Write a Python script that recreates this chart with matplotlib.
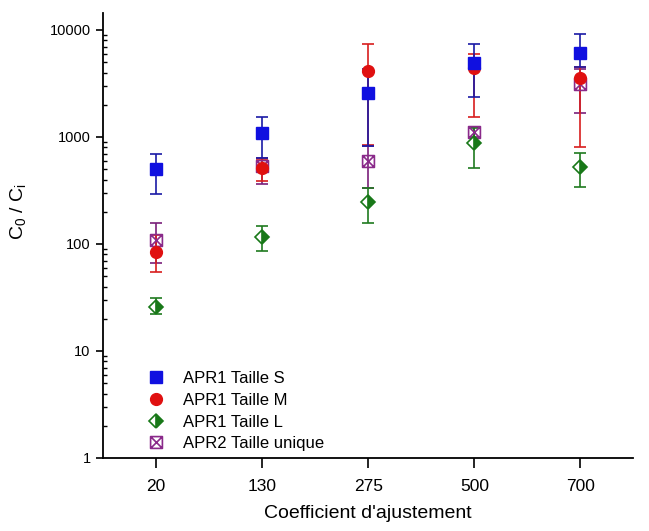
import matplotlib.pyplot as plt
from matplotlib.path import Path
import numpy as np

plt.rcParams['font.family'] = ['Liberation Sans', 'DejaVu Sans']

categories = ["20", "130", "275", "500", "700"]

# APR1 Taille S
s_val = [500, 1090, 2570, 4900, 6100]
s_low = [290, 640, 830, 2350, 4500]
s_high = [700, 1550, 4300, 7400, 9200]

# APR1 Taille M
m_val = [85, 515, 4150, 4400, 3550]
m_low = [55, 390, 850, 1550, 810]
m_high = [121, 620, 7400, 6000, 4500]

# APR1 Taille L
l_val = [26, 117, 247, 880, 525]
l_low = [22, 86, 157, 510, 340]
l_high = [31, 148, 330, 1200, 710]

# APR2 Taille unique
u_val = [110, 540, 590, 1120, 3150]
u_low = [66, 360, 330, 1000, 1680]
u_high = [156, 640, 830, 1250, 4300]

# crossed square marker
crossed_sq = Path(
    [(-1, -1), (1, -1), (1, 1), (-1, 1), (-1, -1), (-1, -1), (1, 1), (-1, 1), (1, -1)],
    [Path.MOVETO, Path.LINETO, Path.LINETO, Path.LINETO, Path.CLOSEPOLY,
     Path.MOVETO, Path.LINETO, Path.MOVETO, Path.LINETO])

fig = plt.figure(figsize=(6.49, 5.31), dpi=100)
ax = fig.add_axes([0.159, 0.1375, 0.817, 0.838])

x = np.arange(len(categories))


def errs(val, low, high):
    val = np.array(val, float)
    return [val - np.array(low, float), np.array(high, float) - val]


ax.errorbar(x, u_val, yerr=errs(u_val, u_low, u_high), fmt='none', ecolor='#7a1f7a',
            elinewidth=1.2, capsize=4, capthick=1.2)
ax.errorbar(x, l_val, yerr=errs(l_val, l_low, l_high), fmt='none', ecolor='#1f7a1f',
            elinewidth=1.2, capsize=4, capthick=1.2)
ax.errorbar(x, m_val, yerr=errs(m_val, m_low, m_high), fmt='none', ecolor='#d81e1e',
            elinewidth=1.2, capsize=4, capthick=1.2)
ax.errorbar(x, s_val, yerr=errs(s_val, s_low, s_high), fmt='none', ecolor='#1a1aa6',
            elinewidth=1.2, capsize=4, capthick=1.2)

# marker layers: unique at bottom, S on top
h_u, = ax.plot(x, u_val, linestyle='none', marker=crossed_sq, markersize=8.5, color='#8a2a8a',
               markerfacecolor='none', markeredgewidth=1.2, label='APR2 Taille unique', zorder=5)
h_l, = ax.plot(x, l_val, linestyle='none', marker='D', markersize=7.5, color='#187818',
               fillstyle='right', markerfacecoloralt='white', markeredgewidth=1.2,
               label='APR1 Taille L', zorder=6)
h_m, = ax.plot(x, m_val, linestyle='none', marker='o', markersize=8.5, color='#e01010',
               label='APR1 Taille M', zorder=7)
h_s, = ax.plot(x, s_val, linestyle='none', marker='s', markersize=8.5, color='#1010e0',
               label='APR1 Taille S', zorder=8)

ax.set_yscale('log')
ax.set_ylim(1, 14400)
ax.set_xlim(-0.5, 4.5)
ax.set_xticks(x)
ax.set_xticklabels(categories)
ax.set_yticks([1, 10, 100, 1000, 10000])
ax.set_yticklabels(["1", "10", "100", "1000", "10000"])

ax.spines['top'].set_visible(False)
ax.spines['right'].set_visible(False)
ax.spines['left'].set_linewidth(1.3)
ax.spines['bottom'].set_linewidth(1.3)
ax.tick_params(axis='x', which='major', labelsize=12.5, direction='out', length=7, width=1.2, pad=8)
ax.tick_params(axis='y', which='major', labelsize=10.5, direction='out', length=5, width=1.2, pad=4)
ax.tick_params(axis='y', which='minor', direction='in', length=3, width=1)

ax.set_xlabel("Coefficient d'ajustement", fontsize=14, labelpad=8)
ax.set_ylabel("C$_\\mathregular{0}$ / C$_\\mathregular{i}$", fontsize=14)
ax.yaxis.set_label_coords(-0.14, 0.555)

ax.legend([h_s, h_m, h_l, h_u],
          ['APR1 Taille S', 'APR1 Taille M', 'APR1 Taille L', 'APR2 Taille unique'],
          loc='lower left', bbox_to_anchor=(0.055, 0.0), frameon=False, fontsize=12,
          handlelength=2.0, handletextpad=0.65, labelspacing=0.4, borderaxespad=0.0)

fig.savefig('out.png', dpi=100)
